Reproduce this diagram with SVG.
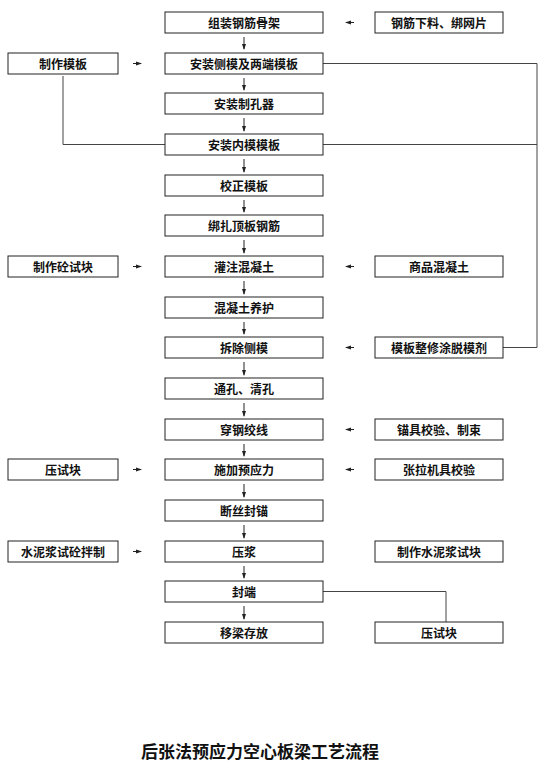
<svg xmlns="http://www.w3.org/2000/svg" width="553" height="781" viewBox="0 0 553 781">
<defs>
<style>
.b{fill:#fff;stroke:#222;stroke-width:1}
.t{font-family:"Noto Sans CJK SC","Noto Sans CJK JP",sans-serif;font-size:12px;font-weight:bold;fill:#111;text-anchor:middle;dominant-baseline:central}
.c{fill:none;stroke:#444;stroke-width:1}
.a{fill:none;stroke:#222;stroke-width:1;marker-end:url(#ah)}
.ti{font-family:"Noto Sans CJK SC","Noto Sans CJK JP",sans-serif;font-size:17px;font-weight:bold;fill:#111;text-anchor:middle}
</style>
<marker id="ah" viewBox="0 0 6 6" refX="5" refY="3" markerWidth="6" markerHeight="6" markerUnits="userSpaceOnUse" orient="auto">
<path d="M0,1 L6,3 L0,5 Z" fill="#222"/>
</marker>
</defs>
<rect width="553" height="781" fill="#fff"/>
<g id="connectors">
<path class="c" d="M63,76 V144.5 H165"/>
<path class="c" d="M323,63.5 H537 V347.5 H503"/>
<path class="c" d="M323,144.5 H537"/>
<path class="c" d="M323,591.5 H446 V622"/>
<path class="a" d="M244,37 V49"/>
<path class="a" d="M244,78 V90"/>
<path class="a" d="M244,118 V131"/>
<path class="a" d="M244,159 V172"/>
<path class="a" d="M244,200 V212"/>
<path class="a" d="M244,240 V253"/>
<path class="a" d="M244,281 V294"/>
<path class="a" d="M244,322 V334"/>
<path class="a" d="M244,362 V375"/>
<path class="a" d="M244,403 V416"/>
<path class="a" d="M244,444 V456"/>
<path class="a" d="M244,484 V497"/>
<path class="a" d="M244,525 V538"/>
<path class="a" d="M244,566 V578"/>
<path class="a" d="M244,606 V619"/>
<path class="a" d="M354,22.5 H346"/>
<path class="a" d="M133,63.5 H141"/>
<path class="a" d="M133,266.5 H141"/>
<path class="a" d="M354,266.5 H346"/>
<path class="a" d="M354,347.5 H346"/>
<path class="a" d="M354,429.5 H346"/>
<path class="a" d="M133,469.5 H141"/>
<path class="a" d="M354,469.5 H346"/>
<path class="a" d="M133,551.5 H141"/>
</g>
<g id="n1"><rect class="b" x="165" y="12" width="158" height="21"/><text class="t" x="244" y="22.5">组装钢筋骨架</text></g>
<g id="n2"><rect class="b" x="165" y="53" width="158" height="21"/><text class="t" x="244" y="63.5">安装侧模及两端模板</text></g>
<g id="n3"><rect class="b" x="165" y="93" width="158" height="21"/><text class="t" x="244" y="103.5">安装制孔器</text></g>
<g id="n4"><rect class="b" x="165" y="134" width="158" height="21"/><text class="t" x="244" y="144.5">安装内模模板</text></g>
<g id="n5"><rect class="b" x="165" y="175" width="158" height="21"/><text class="t" x="244" y="185.5">校正模板</text></g>
<g id="n6"><rect class="b" x="165" y="215" width="158" height="21"/><text class="t" x="244" y="225.5">绑扎顶板钢筋</text></g>
<g id="n7"><rect class="b" x="165" y="256" width="158" height="21"/><text class="t" x="244" y="266.5">灌注混凝土</text></g>
<g id="n8"><rect class="b" x="165" y="297" width="158" height="21"/><text class="t" x="244" y="307.5">混凝土养护</text></g>
<g id="n9"><rect class="b" x="165" y="337" width="158" height="21"/><text class="t" x="244" y="347.5">拆除侧模</text></g>
<g id="n10"><rect class="b" x="165" y="378" width="158" height="21"/><text class="t" x="244" y="388.5">通孔、清孔</text></g>
<g id="n11"><rect class="b" x="165" y="419" width="158" height="21"/><text class="t" x="244" y="429.5">穿钢绞线</text></g>
<g id="n12"><rect class="b" x="165" y="459" width="158" height="21"/><text class="t" x="244" y="469.5">施加预应力</text></g>
<g id="n13"><rect class="b" x="165" y="500" width="158" height="21"/><text class="t" x="244" y="510.5">断丝封锚</text></g>
<g id="n14"><rect class="b" x="165" y="541" width="158" height="21"/><text class="t" x="244" y="551.5">压浆</text></g>
<g id="n15"><rect class="b" x="165" y="581" width="158" height="21"/><text class="t" x="244" y="591.5">封端</text></g>
<g id="n16"><rect class="b" x="165" y="622" width="158" height="21"/><text class="t" x="244" y="632.5">移梁存放</text></g>
<g id="r1"><rect class="b" x="375" y="12" width="128" height="21"/><text class="t" x="439" y="22.5">钢筋下料、绑网片</text></g>
<g id="r2"><rect class="b" x="375" y="256" width="128" height="21"/><text class="t" x="439" y="266.5">商品混凝土</text></g>
<g id="r3"><rect class="b" x="375" y="337" width="128" height="21"/><text class="t" x="439" y="347.5">模板整修涂脱模剂</text></g>
<g id="r4"><rect class="b" x="375" y="419" width="128" height="21"/><text class="t" x="439" y="429.5">锚具校验、制束</text></g>
<g id="r5"><rect class="b" x="375" y="459" width="128" height="21"/><text class="t" x="439" y="469.5">张拉机具校验</text></g>
<g id="r6"><rect class="b" x="375" y="541" width="128" height="21"/><text class="t" x="439" y="551.5">制作水泥浆试块</text></g>
<g id="r7"><rect class="b" x="375" y="622" width="128" height="21"/><text class="t" x="439" y="632.5">压试块</text></g>
<g id="l1"><rect class="b" x="8" y="53" width="110" height="21"/><text class="t" x="63" y="63.5">制作模板</text></g>
<g id="l2"><rect class="b" x="8" y="256" width="110" height="21"/><text class="t" x="63" y="266.5">制作砼试块</text></g>
<g id="l3"><rect class="b" x="8" y="459" width="110" height="21"/><text class="t" x="63" y="469.5">压试块</text></g>
<g id="l4"><rect class="b" x="8" y="541" width="110" height="21"/><text class="t" x="63" y="551.5">水泥浆试砼拌制</text></g>
<g id="title"><text class="ti" x="260" y="758">后张法预应力空心板梁工艺流程</text></g>
</svg>
